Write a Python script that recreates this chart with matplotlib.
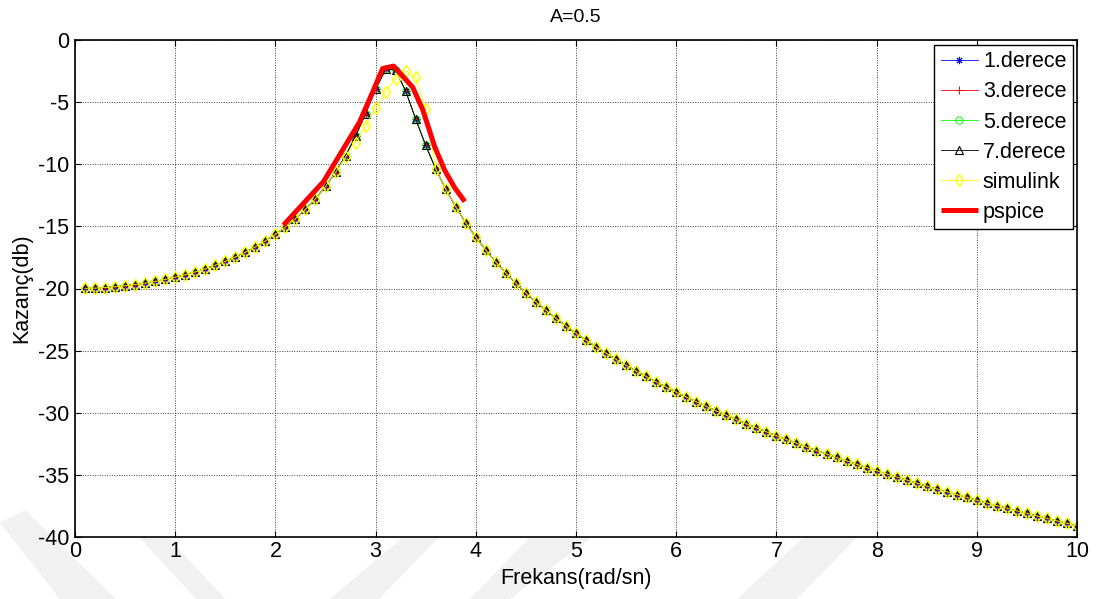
import matplotlib
matplotlib.use("Agg")
import matplotlib.pyplot as plt
from matplotlib.patches import Polygon

plt.rcParams["font.family"] = ["Liberation Sans", "DejaVu Sans"]
plt.rcParams["axes.unicode_minus"] = False

# Frekans ekseni (rad/sn)
frekans = [round(0.1 * i, 1) for i in range(1, 101)]

# Kazanç (dB) - 1., 3., 5. ve 7. dereceden yaklaşımlar (birbirleriyle çakışıyor)
derece = [
    -19.99, -19.97, -19.92, -19.86, -19.78, -19.68, -19.57, -19.43, -19.27, -19.09,
    -18.89, -18.66, -18.41, -18.13, -17.81, -17.46, -17.08, -16.65, -16.17, -15.64,
    -15.05, -14.38, -13.63, -12.77, -11.79, -10.65, -9.31, -7.75, -5.92, -3.94,
    -2.37, -2.40, -4.11, -6.36, -8.49, -10.37, -12.00, -13.44, -14.72, -15.87,
    -16.91, -17.87, -18.76, -19.58, -20.35, -21.07, -21.75, -22.40, -23.01, -23.60,
    -24.16, -24.70, -25.21, -25.70, -26.18, -26.64, -27.08, -27.52, -27.93, -28.34,
    -28.73, -29.11, -29.48, -29.85, -30.20, -30.54, -30.88, -31.21, -31.53, -31.84,
    -32.15, -32.45, -32.75, -33.04, -33.32, -33.60, -33.87, -34.14, -34.41, -34.66,
    -34.92, -35.17, -35.41, -35.66, -35.90, -36.13, -36.36, -36.59, -36.81, -37.04,
    -37.26, -37.47, -37.68, -37.89, -38.10, -38.30, -38.50, -38.70, -38.90, -39.09,
]
derece_1 = derece
derece_3 = derece
derece_5 = derece
derece_7 = derece

# Simulink sonucu: rezonans bölgesinde (2.7 - 3.5 rad/sn) farklılaşıyor
simulink_tepe = [-9.41, -8.25, -6.90, -5.48, -4.15, -3.10, -2.50, -3.00, -5.53]
simulink = derece[:26] + simulink_tepe + derece[35:]

# PSpice ölçümü
pspice_frekans = [2.08, 2.48, 2.84, 2.97, 3.07, 3.18, 3.37, 3.47, 3.59, 3.69, 3.79, 3.89]
pspice_kazanc = [-14.9, -11.4, -6.6, -4.2, -2.3, -2.1, -3.8, -5.6, -8.6, -10.5, -11.9, -13.0]

W, H = 1103, 599
fig = plt.figure(figsize=(W / 100, H / 100), dpi=100)
fig.patch.set_facecolor("white")

# Arka plandaki soluk çapraz şeritler (piksel koordinatları)
serit_listesi = [
    [(0, 523), (25, 510), (116, 599), (60, 599)],
    [(139, 537), (168, 537), (225, 599), (196, 599)],
    [(403, 537), (439, 537), (379, 599), (330, 599)],
    [(530, 537), (592, 537), (510, 599), (470, 599)],
    [(804, 537), (857, 537), (797, 599), (737, 599)],
]
for serit in serit_listesi:
    pts = [(x / W, 1 - y / H) for x, y in serit]
    fig.add_artist(Polygon(pts, closed=True, transform=fig.transFigure,
                           facecolor="#f1f1f1", edgecolor="none", zorder=-5))

ax = fig.add_axes([75 / W, 1 - 537 / H, (1077 - 75) / W, (537 - 40) / H])
ax.set_facecolor("white")

ince = 0.6
ms = 5.2
ax.plot(frekans, derece_1, color="#0000ff", lw=ince, marker=(8, 2, 0), ms=ms,
        markeredgewidth=0.7, label="1.derece")
ax.plot(frekans, derece_3, color="#ff0000", lw=ince, marker="+", ms=ms,
        markeredgewidth=0.7, label="3.derece")
ax.plot(frekans, derece_5, color="#00ff00", lw=ince, marker="o", ms=ms,
        mfc="none", markeredgewidth=0.7, label="5.derece")
ax.plot(frekans, derece_7, color="#000000", lw=ince, marker="^", ms=ms,
        mfc="none", markeredgewidth=0.8, label="7.derece")
ax.plot(frekans, simulink, color="#ffff00", lw=ince, marker="d", ms=ms + 0.8,
        mfc="none", markeredgewidth=1.0, label="simulink")
ax.plot(pspice_frekans, pspice_kazanc, color="#ff0000", lw=3.6,
        solid_joinstyle="round", solid_capstyle="butt", label="pspice")

ax.set_xlim(0, 10)
ax.set_ylim(-40, 0)
ax.set_xticks(range(0, 11))
ax.set_yticks(range(-40, 1, 5))
ax.grid(True, color="#404040", linestyle=(0, (1, 1.5)), linewidth=0.7)
ax.set_axisbelow(True)

for sp in ax.spines.values():
    sp.set_linewidth(1.2)
    sp.set_color("black")
ax.tick_params(direction="in", length=4, width=0.8, top=True, right=True,
               labelsize=15.5, colors="black")
ax.tick_params(axis="x", pad=3)
ax.tick_params(axis="y", pad=4)

ax.set_title("A=0.5", fontsize=14, pad=13)
ax.set_xlabel("Frekans(rad/sn)", fontsize=15.5, labelpad=4)
ax.set_ylabel("Kazanç(db)", fontsize=15.5, labelpad=4)

leg = ax.legend(loc="upper right", bbox_to_anchor=(0.996, 0.99), borderaxespad=0,
                fontsize=15.5, fancybox=False, framealpha=1, edgecolor="black",
                handlelength=1.7, handletextpad=0.25, labelspacing=0.42,
                borderpad=0.3)
leg.get_frame().set_linewidth(1.0)

fig.savefig("out.png", dpi=100)
